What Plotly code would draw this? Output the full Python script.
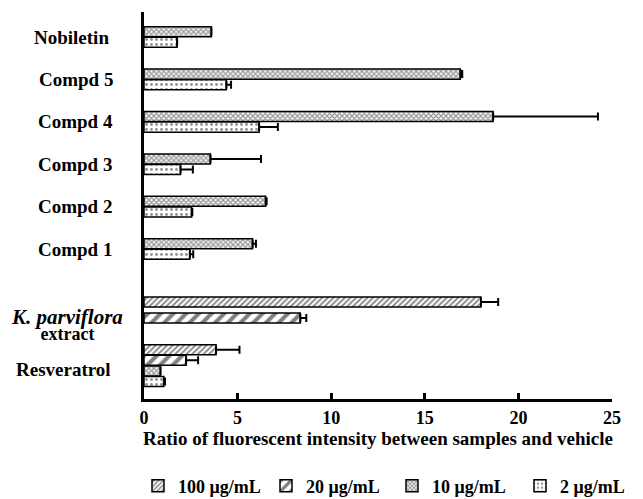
import plotly.graph_objects as go

# ---------------- data ----------------
groups = ["Nobiletin", "Compd 5", "Compd 4", "Compd 3", "Compd 2", "Compd 1",
          "K. parviflora extract", "Resveratrol"]

groups_100 = ["K. parviflora extract", "Resveratrol"]
mean_100 = [18.0, 3.85]
err_100 = [0.92, 1.25]

groups_20 = ["K. parviflora extract", "Resveratrol"]
mean_20 = [8.35, 2.25]
err_20 = [0.32, 0.64]

groups_10 = ["Nobiletin", "Compd 5", "Compd 4", "Compd 3", "Compd 2", "Compd 1", "Resveratrol"]
mean_10 = [3.6, 16.9, 18.65, 3.55, 6.5, 5.8, 0.88]
err_10 = [0.0, 0.1, 5.6, 2.7, 0.05, 0.18, 0.0]

groups_2 = ["Nobiletin", "Compd 5", "Compd 4", "Compd 3", "Compd 2", "Compd 1", "Resveratrol"]
mean_2 = [1.77, 4.4, 6.15, 1.95, 2.55, 2.45, 1.06]
err_2 = [0.0, 0.25, 1.0, 0.66, 0.03, 0.18, 0.06]

conc_labels = ["100 μg/mL", "20 μg/mL", "10 μg/mL", "2 μg/mL"]
x_ticks = [0, 5, 10, 15, 20, 25]
x_title = "Ratio of fluorescent intensity between samples and vehicle"

# ---------------- layout of rows (half-bar slots on a category axis) ----------------
ROW_START = {"Nobiletin": 0, "Compd 5": 8, "Compd 4": 16, "Compd 3": 24, "Compd 2": 32,
             "Compd 1": 40, "K. parviflora extract": 51, "Resveratrol": 60}
ROW_STEP = {g: 2 for g in groups}
ROW_STEP["K. parviflora extract"] = 3

series = [
    (conc_labels[0], groups_100, mean_100, err_100,
     dict(shape="/", size=4, solidity=0.45, fgcolor="black", bgcolor="white")),
    (conc_labels[1], groups_20, mean_20, err_20,
     dict(shape="/", size=9, solidity=0.45, fgcolor="black", bgcolor="white")),
    (conc_labels[2], groups_10, mean_10, err_10,
     dict(shape="x", size=3.5, solidity=0.6, fgcolor="#333333", bgcolor="white")),
    (conc_labels[3], groups_2, mean_2, err_2,
     dict(shape=".", size=5, solidity=0.25, fgcolor="#222222", bgcolor="white")),
]

present = {g: [s[0] for s in series if g in s[1]] for g in groups}
slot = {}
for g in groups:
    for i, c in enumerate(present[g]):
        slot[(g, c)] = ROW_START[g] + ROW_STEP[g] * i
n_rows = max(slot.values()) + 1
rows = [f"gap {i}" for i in range(n_rows)]
for (g, c), i in slot.items():
    rows[i] = f"{g} – {c}"

FONT = "Liberation Serif"

fig = go.Figure()
legend_ids = ["legend", "legend2", "legend3", "legend4"]
for (name, gs, means, errs, pat), lid in zip(series, legend_ids):
    fig.add_trace(go.Bar(
        orientation="h",
        name=name,
        x=means,
        y=[f"{g} – {name}" for g in gs],
        width=1.9,
        marker=dict(color="white", line=dict(color="black", width=1.5), pattern=pat),
        error_x=dict(type="data", array=errs, arrayminus=[0] * len(errs), symmetric=False,
                     color="black", thickness=2, width=4),
        legend=lid,
        showlegend=True,
    ))

# group labels: (text, row position, x-centre px)
LABELS = [
    ("Nobiletin", 1, 71.5),
    ("Compd 5", 9, 75.5),
    ("Compd 4", 17, 75.5),
    ("Compd 3", 25, 75),
    ("Compd 2", 33, 75),
    ("Compd 1", 41, 75),
    ("<span style='font-size:21px'><i>K. parviflora</i></span><br>"
     "<span style='font-size:18px'>extract</span>", 55.2, 67),
    ("Resveratrol", 63.8, 63.5),
]
L = 144
annotations = []
for text, yy, xc in LABELS:
    multi = "<br>" in text
    annotations.append(dict(
        text=text,
        xref="paper", x=0, xanchor="center", xshift=xc - L,
        yref="y", y=yy, yanchor="middle", showarrow=False,
        font=dict(family=FONT, size=12.5 if multi else 19, color="black", weight="bold"),
    ))

legend_x = [138, 266, 392, 520]
legend_common = dict(orientation="h", xref="container", yref="container", y=1 - 486 / 499,
                     yanchor="middle", xanchor="left", bgcolor="rgba(0,0,0,0)",
                     font=dict(family=FONT, size=18, color="black", weight="bold"))

layout_legends = {}
for lid, lx in zip(legend_ids, legend_x):
    layout_legends[lid] = dict(x=lx / 643, **legend_common)

fig.update_layout(
    width=643, height=499,
    margin=dict(l=L, r=31, t=12, b=100),
    paper_bgcolor="white", plot_bgcolor="white",
    barmode="overlay",
    xaxis=dict(range=[0, 25], tickvals=x_ticks, ticks="inside", ticklen=6, tickwidth=3,
               tickcolor="black", showline=True, linewidth=3, linecolor="black",
               showgrid=False, zeroline=False,
               tickfont=dict(family=FONT, size=18, color="black", weight="bold"),
               title=dict(text=x_title, standoff=6,
                          font=dict(family=FONT, size=19, color="black", weight="bold"))),
    yaxis=dict(type="category", categoryorder="array", categoryarray=rows,
               range=[69.3, -3.72], showticklabels=False, ticks="", showline=True,
               linewidth=3, linecolor="black", showgrid=False, zeroline=False),
    annotations=annotations,
    **layout_legends,
)

fig.write_html("out.html", config={"displayModeBar": False},
               post_script="document.body.style.margin='0';document.body.style.overflow='hidden';")
